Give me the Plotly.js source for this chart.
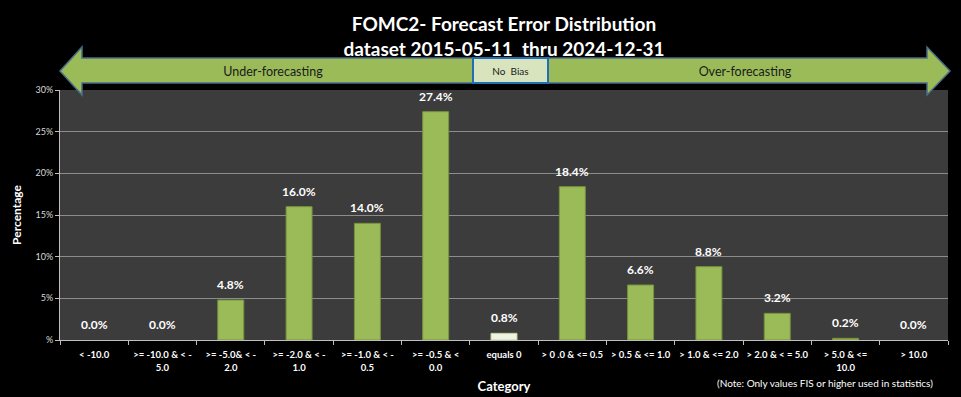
<!DOCTYPE html>
<html>
<head>
<meta charset="utf-8">
<script src="https://cdn.plot.ly/plotly-3.0.1.min.js"></script>
<style>html,body{margin:0;padding:0;background:#000;}#chart{width:961px;height:397px;}</style>
</head>
<body>
<div id="chart"></div>
<script>
const categories = ["< -10.0", ">= -10.0 & < -<br>5.0", ">= -5.0& < -<br>2.0", ">= -2.0 & < -<br>1.0", ">= -1.0 & < -<br>0.5", ">= -0.5 & <<br>0.0", "equals 0", "> 0 .0 & <= 0.5", "> 0.5 & <= 1.0", "> 1.0 & <= 2.0", "> 2.0 & < = 5.0", "> 5.0 & <=<br>10.0", "> 10.0"];
const values = [0.0, 0.0, 4.8, 16.0, 14.0, 27.4, 0.8, 18.4, 6.6, 8.8, 3.2, 0.2, 0.0];
const yTickVals = [0, 5, 10, 15, 20, 25, 30];
const yTickText = ["%", "5%", "10%", "15%", "20%", "25%", "30%"];

const FONT = "Lato, 'Open Sans', sans-serif";
const L = 60, R = 948, T = 90, B = 340;
const px = x => (x - L) / (R - L);
const py = y => (B - y) / (B - T);

const barColors = categories.map(c => c === "equals 0" ? "#EEF3E2" : "#9BBB59");
const lineColors = categories.map(c => c === "equals 0" ? "#C4D79B" : "#77933C");
const lineWidths = values.map(v => v === 0 ? 0 : 1);

const trace = {
  type: "bar",
  x: categories,
  y: values,
  marker: {color: barColors, line: {color: lineColors, width: lineWidths}},
  hoverinfo: "x+y"
};

const annotations = categories.map((c, i) => ({
  x: c, y: values[i], xref: "x", yref: "y",
  text: values[i].toFixed(1) + "%",
  showarrow: false, xanchor: "center", yanchor: "bottom", yshift: 6,
  font: {family: FONT, size: 12, color: "#FFFFFF", weight: "bold"}
}));

annotations.push(
  {xref: "paper", yref: "paper", x: px(825), y: py(383), xanchor: "center", yanchor: "middle",
   text: "(Note: Only values FIS or higher used in statistics)", showarrow: false,
   font: {family: FONT, size: 10, color: "#FFFFFF"}}
);

const leftArrow = `M ${px(60)},${py(71)} L ${px(82)},${py(47)} L ${px(82)},${py(58)} L ${px(473)},${py(58)} L ${px(473)},${py(83)} L ${px(82)},${py(83)} L ${px(82)},${py(95)} Z`;
const rightArrow = `M ${px(950)},${py(71)} L ${px(927)},${py(47)} L ${px(927)},${py(58)} L ${px(548)},${py(58)} L ${px(548)},${py(83)} L ${px(927)},${py(83)} L ${px(927)},${py(95)} Z`;

const labelBox = (x0, x1, text, size) => ({
  type: "rect", xref: "paper", yref: "paper", x0: px(x0), x1: px(x1), y0: py(84), y1: py(58),
  fillcolor: "rgba(0,0,0,0)", line: {width: 0}, layer: "above",
  label: {text: text, textposition: "middle center", font: {family: FONT, size: size, color: "#1A1A1A"}}
});

const shapes = [
  {type: "path", xref: "paper", yref: "paper", path: leftArrow, fillcolor: "#9BBB59", line: {color: "#4A6E8A", width: 1.5}, layer: "above"},
  {type: "path", xref: "paper", yref: "paper", path: rightArrow, fillcolor: "#9BBB59", line: {color: "#4A6E8A", width: 1.5}, layer: "above"},
  {type: "rect", xref: "paper", yref: "paper", x0: px(473), x1: px(548), y0: py(83), y1: py(58), fillcolor: "#D7E4BD", line: {color: "#1F6FB5", width: 2}, layer: "above"},
  labelBox(173, 373, "Under-forecasting", 12.5),
  labelBox(473, 548, "No  Bias", 10),
  labelBox(645, 845, "Over-forecasting", 12.5)
];

const layout = {
  width: 961, height: 397,
  margin: {l: L, r: 961 - R, t: T, b: 397 - B},
  paper_bgcolor: "#000000",
  plot_bgcolor: "#3C3C3C",
  showlegend: false,
  bargap: 0.62,
  title: {
    text: "<b>FOMC2- Forecast Error Distribution</b><br><b>dataset 2015-05-11  thru 2024-12-31</b>",
    x: 0.5, xref: "paper", xanchor: "center",
    y: 1 - 31 / 397, yref: "container", yanchor: "top",
    font: {family: FONT, size: 19, color: "#FFFFFF"}
  },
  xaxis: {
    type: "category",
    tickangle: 0,
    tickfont: {family: FONT, size: 9.5, color: "#FFFFFF", weight: "bold"},
    ticks: "outside", tickson: "boundaries", ticklen: 4, tickcolor: "#BFBFBF",
    ticklabelstandoff: 6,
    showline: true, linecolor: "#BFBFBF", linewidth: 1,
    showgrid: false, automargin: false,
    title: {text: "<b>Category</b>", font: {family: FONT, size: 13, color: "#FFFFFF"}, standoff: 10}
  },
  yaxis: {
    range: [0, 30],
    tickvals: yTickVals, ticktext: yTickText,
    tickfont: {family: FONT, size: 9, color: "#D9D9D9"},
    ticks: "outside", ticklen: 4, tickcolor: "#BFBFBF",
    showline: true, linecolor: "#BFBFBF", linewidth: 1,
    showgrid: true, gridcolor: "#8C8C8C", gridwidth: 1,
    zeroline: false, automargin: false,
    title: {text: "<b>Percentage</b>", font: {family: FONT, size: 12, color: "#FFFFFF"}, standoff: 11}
  },
  annotations: annotations,
  shapes: shapes
};

Plotly.newPlot("chart", [trace], layout, {displayModeBar: false, staticPlot: true});
</script>
</body>
</html>
